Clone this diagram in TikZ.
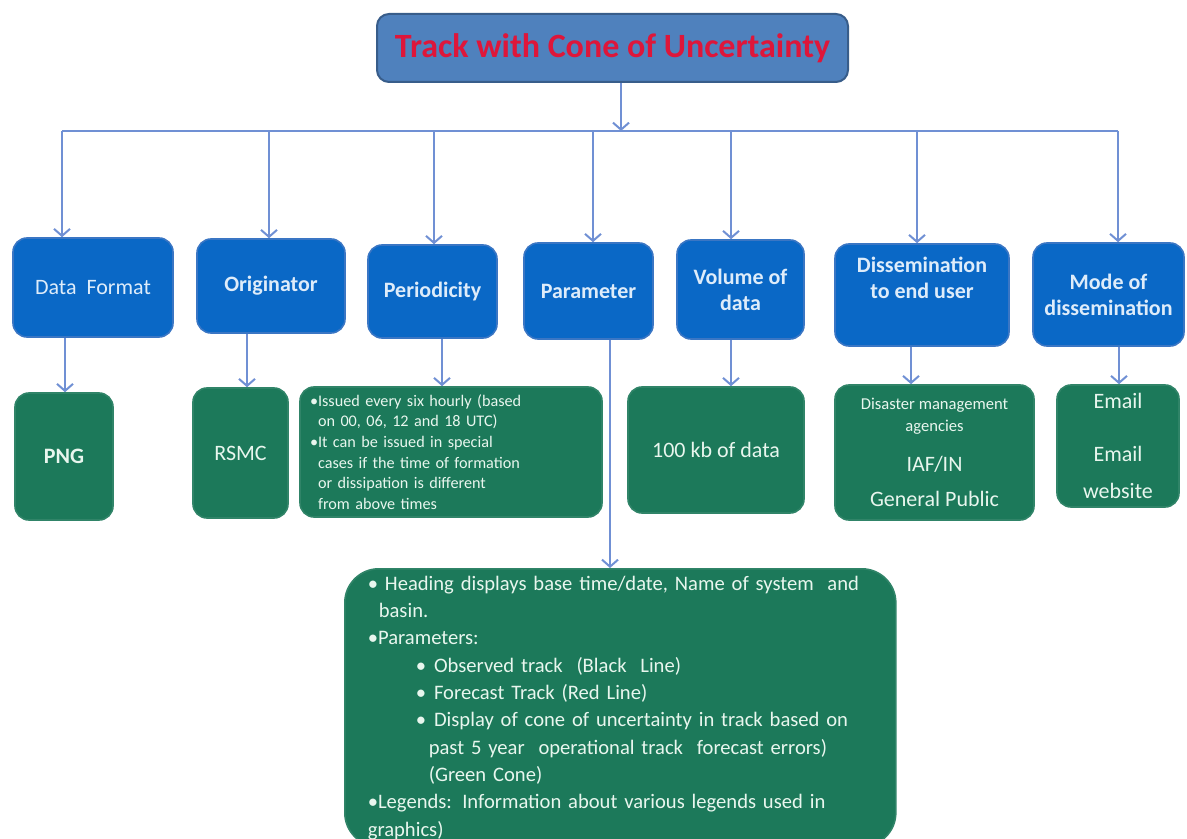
\documentclass[tikz,border=0pt]{standalone}
\usepackage{fontspec}
\setmainfont{Carlito}
\usepackage{xcolor}
\usepackage{tikz}
\usetikzlibrary{positioning, arrows.meta}

\definecolor{titlefill}{RGB}{79,129,189}
\definecolor{titleline}{RGB}{56,93,138}
\definecolor{titletext}{RGB}{222,22,58}
\definecolor{headfill}{RGB}{10,104,198}
\definecolor{headline}{RGB}{58,118,196}
\definecolor{headtext}{RGB}{222,236,250}
\definecolor{leaffill}{RGB}{28,121,90}
\definecolor{leafline}{RGB}{48,132,104}
\definecolor{leaftext}{RGB}{232,246,238}
\definecolor{linkblue}{RGB}{112,144,212}

\begin{document}
\begin{tikzpicture}[x=0.5pt, y=-0.5pt, >={Straight Barb[length=3.5pt, width=8pt]},
    titlebox/.style={draw=titleline, line width=1pt, fill=titlefill, rounded corners=6pt,
        text=titletext, font=\fontsize{17}{20}\selectfont\bfseries},
    headbox/.style={draw=headline, line width=0.8pt, fill=headfill, rounded corners=7pt,
        text=headtext, align=center, font=\fontsize{11}{13}\selectfont\bfseries},
    leafbox/.style={draw=leafline, line width=0.8pt, fill=leaffill, rounded corners=7pt,
        text=leaftext, align=center, font=\fontsize{11}{13}\selectfont},
    link/.style={draw=linkblue, line width=1pt},
    arr/.style={link, ->}]
    \useasboundingbox (0,0) rectangle (1187,839);

    % Title
    \node[titlebox, minimum width=235.5pt, minimum height=34pt] (title) at (612.5,48) {Track with Cone of Uncertainty};

    % Headings
    \node[headbox, font=\fontsize{11}{13}\selectfont, minimum width=80pt, minimum height=49.5pt] (format) at (93,287.5) {Data\ \ Format};
    \node[headbox, minimum width=74pt, minimum height=47pt] (origin) at (271,286) {Originator};
    \node[headbox, minimum width=64.5pt, minimum height=46.5pt] (period) at (432.5,291.5) {Periodicity};
    \node[headbox, minimum width=64.5pt, minimum height=48pt] (param) at (588.5,291) {Parameter};
    \node[headbox, minimum width=63.5pt, minimum height=49.5pt] (volume) at (740.5,289.5) {Volume of\\data};
    \node[headbox, minimum width=87pt, minimum height=51pt] (dissem) at (922,295) {Dissemination\\to end user\\\strut};
    \node[headbox, minimum width=75.5pt, minimum height=51.5pt] (mode) at (1108.5,294.5) {Mode of\\dissemination};

    % Values
    \node[leafbox, font=\fontsize{11}{13}\selectfont\bfseries, minimum width=49pt, minimum height=63.5pt] (png) at (64,456.5) {PNG};
    \node[leafbox, minimum width=47.5pt, minimum height=65pt] (rsmc) at (240.5,453) {RSMC};
    \node[leafbox, minimum width=151pt, minimum height=65pt, text width=141pt, inner xsep=5pt, align=left,
        font=\fontsize{8.1}{10.3}\selectfont] (issued) at (451,452) {%
        •Issued every six hourly (based\\
        \phantom{•}on 00, 06, 12 and 18 UTC)\\
        •It can be issued in special\\
        \phantom{•}cases if the time of formation\\
        \phantom{•}or dissipation is different\\
        \phantom{•}from above times};
    \node[leafbox, minimum width=88pt, minimum height=63pt] (volval) at (716,450) {100 kb of data};
    \node[leafbox, minimum width=99.5pt, minimum height=67.5pt] (users) at (934.5,452.5) {%
        \fontsize{8.3}{10}\selectfont Disaster management\\[-2pt]
        \fontsize{8.3}{10}\selectfont agencies\\[7pt]
        IAF/IN\\[4.5pt]
        General Public};
    \node[leafbox, minimum width=61pt, minimum height=61pt] (email) at (1118,446) {Email\\[13.5pt]Email\\[5.5pt]website};

    % Parameter details
    \node[leafbox, anchor=north west, text width=252.5pt, inner xsep=11.5pt, inner ysep=3.5pt, align=left,
        rounded corners=17pt, font=\fontsize{10.3}{13.67}\selectfont] (legend) at (344,568) {%
        \mbox{•\ Heading displays base time/date, Name of system\ \ and}\\
        \hspace*{5.5pt}basin.\\
        •Parameters:\\
        \hspace*{24pt}•\hspace{4pt}Observed track\ \ (Black\ \ Line)\\
        \hspace*{24pt}•\hspace{4pt}Forecast Track (Red Line)\\
        \mbox{\hspace*{24pt}•\hspace{4pt}Display of cone of uncertainty in track based on}\\
        \hspace*{30.5pt}past 5 year\ \ operational track\ \ forecast errors)\\
        \hspace*{30.5pt}(Green Cone)\\
        •Legends: Information about various legends used in\\
        graphics)};

    % Bus
    \coordinate (bt) at (621,131);
    \coordinate (b1) at (62,131);
    \coordinate (b2) at (269,131);
    \coordinate (b3) at (434,131);
    \coordinate (b4) at (593,131);
    \coordinate (b5) at (731,131);
    \coordinate (b6) at (917,131);
    \coordinate (b7) at (1118,131);
    \draw[arr] (title.south -| bt) -- (bt);
    \draw[link] (b1) -- (b7);
    \draw[arr] (b1) -- (b1 |- format.north);
    \draw[arr] (b2) -- (b2 |- origin.north);
    \draw[arr] (b3) -- (b3 |- period.north);
    \draw[arr] (b4) -- (b4 |- param.north);
    \draw[arr] (b5) -- (b5 |- volume.north);
    \draw[arr] (b6) -- (b6 |- dissem.north);
    \draw[arr] (b7) -- (b7 |- mode.north);

    % Heading to value
    \coordinate (d1) at (65,0);
    \coordinate (d2) at (247,0);
    \coordinate (d3) at (442,0);
    \coordinate (d4) at (610,0);
    \coordinate (d5) at (731,0);
    \coordinate (d6) at (911,0);
    \coordinate (d7) at (1119,0);
    \draw[arr] (format.south -| d1) -- (png.north -| d1);
    \draw[arr] (origin.south -| d2) -- (rsmc.north -| d2);
    \draw[arr] (period.south -| d3) -- (issued.north -| d3);
    \draw[arr] (param.south -| d4) -- (legend.north -| d4);
    \draw[arr] (volume.south -| d5) -- (volval.north -| d5);
    \draw[arr] (dissem.south -| d6) -- (users.north -| d6);
    \draw[arr] (mode.south -| d7) -- (email.north -| d7);
\end{tikzpicture}
\end{document}
